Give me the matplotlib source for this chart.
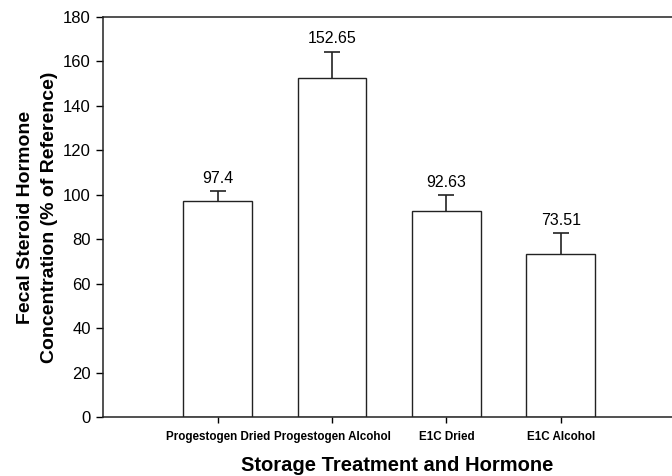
import matplotlib.pyplot as plt
import numpy as np

plt.rcParams['font.family'] = ['Liberation Sans', 'DejaVu Sans']

# storage treatment / hormone groups
groups = ['Progestogen Dried', 'Progestogen Alcohol', 'E1C Dried', 'E1C Alcohol']
means = [97.4, 152.65, 92.63, 73.51]
errors = [4.3, 11.8, 7.3, 9.3]

fig = plt.figure(figsize=(6.72, 4.76), dpi=100)
ax = fig.add_axes([0.1537, 0.1239, 0.8508, 0.8404])

pos = np.arange(1, len(groups) + 1)
ax.bar(pos, means, width=0.6, color='white', edgecolor='#222222', linewidth=1.0)
_, caps, _ = ax.errorbar(pos, means, yerr=[np.zeros(len(errors)), errors], fmt='none',
                         ecolor='#222222', elinewidth=1.2, capsize=5.5, capthick=1.2)
caps[0].set_visible(False)  # only the upper whisker is drawn

for x, m, e in zip(pos, means, errors):
    ax.annotate(f'{m:g}', (x, m + e), xytext=(0, 6), textcoords='offset points',
                ha='center', va='baseline', fontsize=11.5)

ax.set_xlim(0, 5)
ax.set_ylim(0, 180)
ax.set_yticks(np.arange(0, 181, 20))
ax.set_xticks(pos)
ax.set_xticklabels(groups, fontsize=8.4, fontweight='bold')
ax.tick_params(axis='y', labelsize=12, length=5, width=1, pad=4)
ax.tick_params(axis='x', length=4, width=1, pad=6)

ax.spines['right'].set_visible(False)
for s in ('left', 'bottom', 'top'):
    ax.spines[s].set_linewidth(1.1)
    ax.spines[s].set_color('#222222')

ax.set_xlabel('Storage Treatment and Hormone', fontsize=14.5, fontweight='bold')
ax.xaxis.label.set_va('center')
ax.xaxis.set_label_coords(0.514, -0.12)

ax.set_ylabel('Fecal Steroid Hormone\nConcentration (% of Reference)',
              fontsize=14, fontweight='bold', linespacing=1.6)
ax.yaxis.label.set_va('center')
ax.yaxis.set_label_coords(-0.115, 0.5)

fig.savefig('out.png', dpi=100)
